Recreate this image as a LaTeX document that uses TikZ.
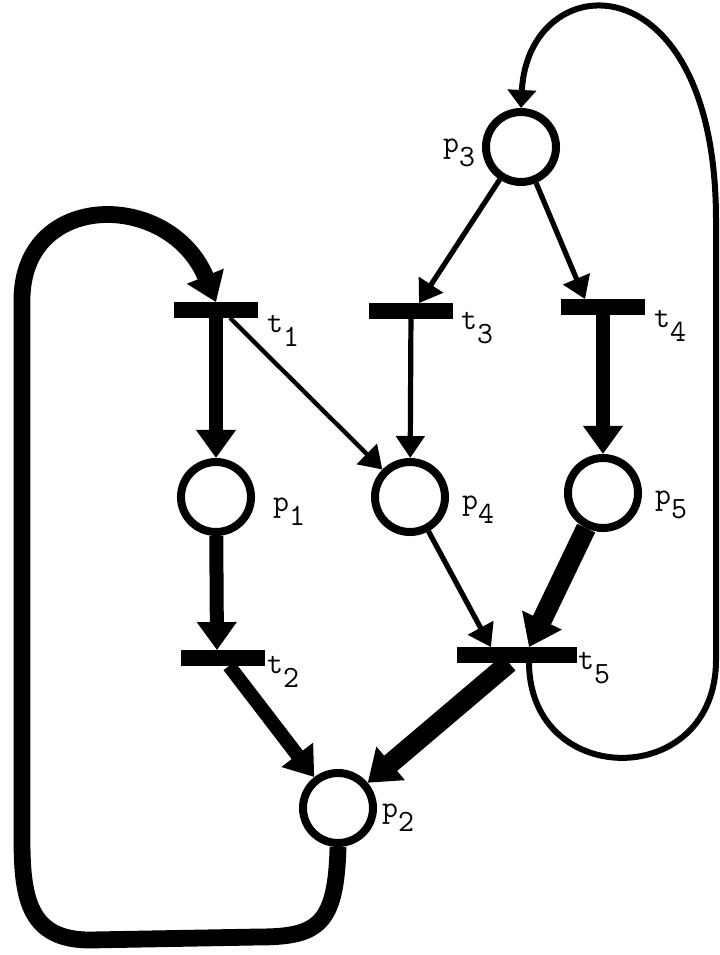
\documentclass[tikz,border=0pt]{standalone}
\usetikzlibrary{arrows.meta}
\newcommand\lsub[1]{\raisebox{-0.45em}{#1}}

\begin{document}
\begin{tikzpicture}[
  x=0.025cm, y=-0.025cm,
  font=\fontsize{22}{24}\selectfont\ttfamily,
  place/.style={circle, draw, line width=0.2cm, minimum size=1.75cm, inner sep=0pt, fill=white},
  bar/.style={rectangle, fill=black, minimum width=2.1cm, minimum height=0.38cm, inner sep=0pt},
  lbl/.style={inner sep=0pt},
  flow/.style={line width=0.13cm, -{Triangle[length=0.55cm, width=0.7cm]}},
  boldflow/.style={line width=0.35cm, -{Triangle[length=0.7cm, width=0.95cm]}},
  heavyflow/.style={line width=0.5cm, -{Triangle[length=0.75cm, width=1.05cm]}}
]
\useasboundingbox (0,0) rectangle (720,955);

\node[place] (p3) at (521,147) {};
\node[bar] (t1) at (216,310) {};
\node[bar] (t3) at (411,311) {};
\node[bar] (t4) at (603,307) {};
\node[place] (p1) at (216,497) {};
\node[place] (p4) at (410,497) {};
\node[place] (p5) at (603,493) {};
\node[bar] (t2) at (223,658) {};
\node[bar, minimum width=3cm] (t5) at (517,655) {};
\node[place] (p2) at (338,808) {};

\draw[flow] (p3) -- ([xshift=0.2cm]t3.north);
\draw[flow] (p3) -- ([xshift=-0.45cm]t4.north);
\draw[boldflow] (t1) -- (p1);
\draw[flow, line width=0.11cm] ([xshift=0.35cm]t1.south) -- (p4);
\draw[flow] (t3) -- (p4);
\draw[boldflow] (t4) -- (p5);
\draw[boldflow] (p1) -- ([xshift=-0.15cm]t2.north);
\draw[flow] (p4) -- ([xshift=-0.65cm]t5.north);
\draw[heavyflow] (p5) -- ([xshift=0.3cm]t5.north);
\draw[boldflow] (t2) -- (p2);
\draw[heavyflow] ([xshift=-0.2cm]t5.south) -- (p2);

\draw[boldflow, line width=0.42cm] (p2.south) .. controls (336,925) and (318,937) .. (258,937)
  -- (90,940) .. controls (30,940) and (22,900) .. (22,840) -- (22,300)
  .. controls (22,190) and (170,190) .. (t1.north);
\draw[flow, line width=0.15cm, -{Triangle[length=0.45cm, width=0.7cm]}] ([xshift=0.3cm]t5.south)
  .. controls (530,790) and (716,790) .. (716,660) -- (716,220)
  .. controls (716,-45) and (528,-35) .. (p3.north);

\node[lbl] (lp3) at (459,153) {p\lsub{3}};
\node[lbl] (lt1) at (283,331) {t\lsub{1}};
\node[lbl] (lt3) at (477,328) {t\lsub{3}};
\node[lbl] (lt4) at (670,326) {t\lsub{4}};
\node[lbl] (lp1) at (289,512) {p\lsub{1}};
\node[lbl] (lp4) at (478,510) {p\lsub{4}};
\node[lbl] (lp5) at (671,505) {p\lsub{5}};
\node[lbl] (lt2) at (283,672) {t\lsub{2}};
\node[lbl] (lt5) at (594,668) {t\lsub{5}};
\node[lbl] (lp2) at (398,818) {p\lsub{2}};

\end{tikzpicture}
\end{document}
